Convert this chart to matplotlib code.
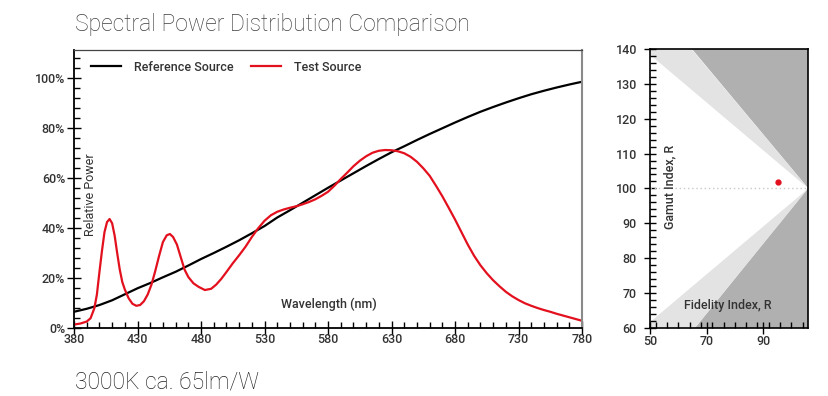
import matplotlib
matplotlib.use("Agg")
import matplotlib.pyplot as plt
from matplotlib.ticker import MultipleLocator, FixedLocator, FuncFormatter

plt.rcParams['font.family'] = ['Roboto', 'DejaVu Sans']

# reference (black body) spectrum, %, every 10 nm
ref_wl = list(range(380, 781, 10))
ref_pw = [6.6, 7.8, 9.3, 11.2, 13.6, 16.0, 18.1, 20.4, 22.6, 25.1,
          27.7, 30.1, 32.6, 35.2, 38.0, 40.9, 44.3, 47.2, 50.2, 53.2,
          56.2, 59.1, 62.0, 64.9, 67.7, 70.4, 72.8, 75.3, 77.7, 80.0,
          82.3, 84.5, 86.6, 88.5, 90.3, 92.0, 93.6, 95.0, 96.3, 97.5, 98.6]

# test LED spectrum, %
test_wl = [380, 385, 390, 393, 396, 398, 400, 402, 404, 406, 408, 410, 412, 414,
           416, 418, 420, 423, 426, 429, 432, 435, 438, 441, 444, 447, 450, 453,
           455.5, 458, 461, 464, 467, 470, 474, 478, 483, 488, 492, 496, 500, 505,
           510, 515, 520, 525, 530, 535, 540, 545, 550, 555, 560, 565, 570, 575,
           580, 585, 590, 595, 600, 605, 610, 615, 620, 625, 630, 635, 640, 645,
           650, 655, 660, 665, 670, 675, 680, 685, 690, 695, 700, 705, 710, 715,
           720, 725, 730, 735, 740, 745, 750, 755, 760, 765, 770, 775, 780]
test_pw = [1.5, 1.9, 2.7, 4.0, 8.0, 13.5, 22.5, 31.0, 38.5, 42.5, 43.7, 42.0, 37.0, 30.0,
           23.5, 18.5, 15.5, 12.0, 9.8, 9.0, 9.3, 10.8, 13.5, 17.5, 23.0, 29.0, 34.5, 37.2,
           37.7, 36.5, 33.5, 28.5, 23.5, 20.5, 18.0, 16.6, 15.3, 15.8, 17.5, 19.8, 22.5, 26.0,
           29.2, 32.6, 36.5, 40.0, 43.0, 45.2, 46.6, 47.5, 48.2, 48.8, 49.6, 50.5, 51.6, 53.0,
           54.6, 57.0, 59.7, 62.2, 64.8, 67.0, 68.8, 70.2, 71.0, 71.3, 71.2, 70.8, 70.0, 68.6,
           66.6, 64.0, 61.0, 57.0, 52.8, 48.2, 43.5, 38.5, 33.5, 29.0, 25.2, 22.0, 19.2, 16.8,
           14.6, 12.8, 11.3, 10.0, 9.0, 8.1, 7.3, 6.6, 5.8, 5.1, 4.4, 3.7, 3.0]

wl_ticks = list(range(380, 781, 50))

# TM-30 style gamut / fidelity zones
rf_min, rf_max = 50, 106
rg_min, rg_max, rg_ref = 60, 140, 100
light_edge_top = 138.4   # Rg where the white zone meets the left axis (upper)
light_edge_bot = 61.6    # same, lower
dark_edge_top = 64.7     # Rf where the dark zone meets the top axis
dark_edge_bot = 65.9     # Rf where the dark zone meets the bottom axis
sample_rf, sample_rg = 95.1, 101.7

red = '#e3101e'
tick_col = '#333333'

fig = plt.figure(figsize=(8.29, 3.96), dpi=100)
ax = fig.add_axes([0.0893, 0.171, 0.6128, 0.704])
ax2 = fig.add_axes([0.7841, 0.1725, 0.1910, 0.7035])

# --- spectral power distribution ---
ax.plot(ref_wl, ref_pw, color='black', lw=1.6, label='Reference Source')
ax.plot(test_wl, test_pw, color=red, lw=1.6, label='Test Source')
ax.set_xlim(380, 780)
ax.set_ylim(0, 111.5)
ax.xaxis.set_major_locator(FixedLocator(wl_ticks))
ax.xaxis.set_minor_locator(MultipleLocator(10))
ax.yaxis.set_major_locator(MultipleLocator(20))
ax.yaxis.set_minor_locator(MultipleLocator(4))
ax.yaxis.set_major_formatter(FuncFormatter(lambda v, p: '%d%%' % v))
ax.tick_params(which='major', direction='inout', length=10, width=1,
               labelsize=9, labelcolor=tick_col)
ax.tick_params(axis='y', which='major', pad=1.5)
ax.tick_params(axis='x', which='major', pad=-1.5)
ax.tick_params(which='minor', direction='in', length=4.5, width=1)
for s in ('left', 'bottom'):
    ax.spines[s].set_linewidth(1.3)
ax.spines['top'].set_linewidth(0.9)
ax.spines['top'].set_color('#444444')
ax.spines['right'].set_linewidth(1.5)
ax.spines['right'].set_color('#8a8a8a')

leg = ax.legend(loc='upper left', ncol=2, frameon=False, fontsize=9,
                handlelength=2.4, handletextpad=1.0, columnspacing=1.4,
                bbox_to_anchor=(0.012, 1.0))
for t in leg.get_texts():
    t.set_color(tick_col)
    t.set_fontweight('medium')

ax.text(0.033, 0.478, 'Relative Power', transform=ax.transAxes, rotation=90,
        ha='center', va='center', fontsize=9, color=tick_col)
ax.text(0.502, 0.087, 'Wavelength (nm)', transform=ax.transAxes,
        ha='center', va='center', fontsize=9, color=tick_col, fontweight='medium')

fig.text(75 / 829, 1 - 31 / 396, 'Spectral Power Distribution Comparison',
         fontsize=16.5, fontweight='light', color='#3f3f3f', va='baseline')
fig.text(75 / 829, 1 - 388 / 396, '3000K ca. 65lm/W',
         fontsize=16.5, fontweight='light', color='#222222', va='baseline')

# --- gamut vs fidelity ---
ax2.set_xlim(rf_min, rf_max)
ax2.set_ylim(rg_min, rg_max)
ax2.fill([dark_edge_top, rf_max, rf_max], [rg_max, rg_max, rg_ref],
         color='#b0b0b0', lw=0)
ax2.fill([rf_min, dark_edge_top, rf_max, rf_min],
         [rg_max, rg_max, rg_ref, light_edge_top], color='#e3e3e3', lw=0)
ax2.fill([dark_edge_bot, rf_max, rf_max], [rg_min, rg_min, rg_ref],
         color='#b0b0b0', lw=0)
ax2.fill([rf_min, rf_max, dark_edge_bot, rf_min],
         [light_edge_bot, rg_ref, rg_min, rg_min], color='#e3e3e3', lw=0)
ax2.plot([rf_min, rf_max], [rg_ref, rg_ref], color='#c8c8c8', lw=1,
         ls=(0, (1, 2)))
ax2.plot([sample_rf], [sample_rg], 'o', color=red, ms=3.5)

ax2.xaxis.set_major_locator(FixedLocator([50, 70, 90]))
ax2.xaxis.set_minor_locator(MultipleLocator(4))
ax2.yaxis.set_major_locator(MultipleLocator(10))
ax2.yaxis.set_minor_locator(MultipleLocator(2))
ax2.tick_params(which='major', direction='inout', length=9, width=1,
                labelsize=9, labelcolor=tick_col)
ax2.tick_params(axis='y', which='major', pad=5)
ax2.tick_params(axis='x', which='major', pad=0.5)
ax2.tick_params(which='minor', direction='in', length=4, width=1)
for s in ax2.spines.values():
    s.set_linewidth(1.2)

ax2.text(0.126, 0.505, 'Gamut Index, R', transform=ax2.transAxes, rotation=90,
         ha='center', va='center', fontsize=9, color=tick_col, fontweight='medium')
ax2.text(0.49, 0.078, 'Fidelity Index, R', transform=ax2.transAxes,
         ha='center', va='center', fontsize=9, color=tick_col, fontweight='medium')

for lab in ax.get_xticklabels() + ax.get_yticklabels() + \
        ax2.get_xticklabels() + ax2.get_yticklabels():
    lab.set_fontweight('medium')

fig.savefig('out.png', dpi=100)
